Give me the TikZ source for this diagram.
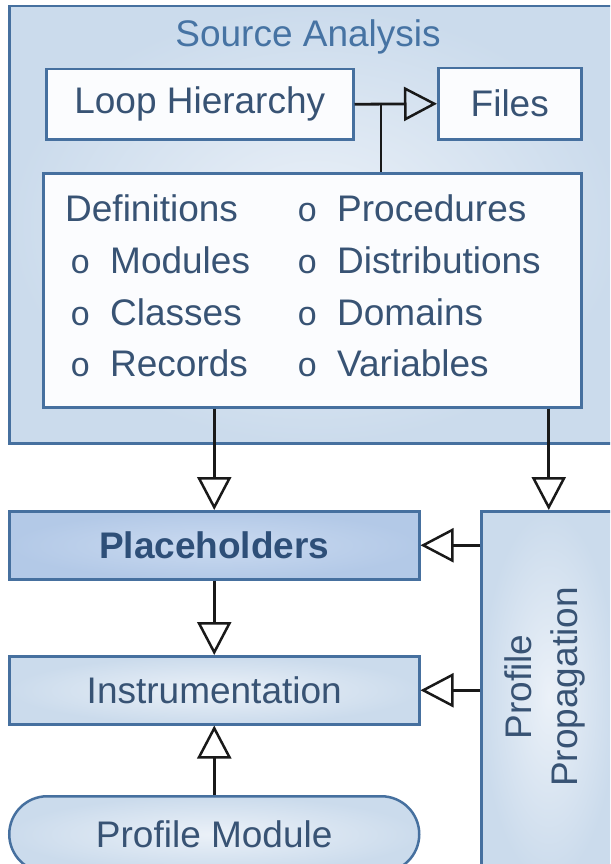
\documentclass[tikz,border=0pt]{standalone}
\usepackage{fontspec}
\setmainfont{Liberation Sans}
\newfontfamily\bulletfont{Liberation Mono}
\usetikzlibrary{arrows.meta,positioning}

\definecolor{edgeblue}{HTML}{46709F}
\definecolor{txtblue}{HTML}{385374}
\definecolor{headblue}{HTML}{4673A3}
\definecolor{boldblue}{HTML}{2E4F78}
\definecolor{paleIn}{HTML}{EBF1F8}
\definecolor{paleOut}{HTML}{CBDBEC}
\definecolor{phIn}{HTML}{CADAF0}
\definecolor{phOut}{HTML}{B3C9E7}
\definecolor{whitebox}{HTML}{FBFCFE}

\tikzset{
  x=1pt, y=-1pt,
  bigfont/.style={font=\fontsize{37}{46}\selectfont},
  panel/.style={draw=edgeblue, line width=2.5pt, inner color=paleIn, outer color=paleOut,
                anchor=north west, inner sep=0pt},
  whitepanel/.style={draw=edgeblue, line width=2.5pt, fill=whitebox,
                anchor=north west, inner sep=0pt, bigfont, text=txtblue},
  listtext/.style={bigfont, text=txtblue, anchor=base west, inner sep=0pt},
  link/.style={line width=2.8pt, draw=black!90},
  conn/.style={link, -{Triangle[open, length=33pt, width=34pt, line width=2.5pt]}},
}
\newcommand{\bul}{\makebox[40pt][l]{\bulletfont\fontsize{34}{40}\selectfont o}}

\begin{document}
\begin{tikzpicture}
\clip (0,0) rectangle (610,864);
\fill[white] (0,0) rectangle (610,864);

% Source analysis group
\node[panel, minimum width=612pt, minimum height=437pt] (sa) at (8,5) {};
\node[bigfont, text=headblue] (title) at (308,37) {Source Analysis};
\node[whitepanel, minimum width=307pt, minimum height=70pt] (loop) at (45,68) {Loop Hierarchy};
\node[whitepanel, minimum width=143pt, minimum height=71pt] (files) at (437,67) {Files};
\node[whitepanel, minimum width=538pt, minimum height=234pt] (defs) at (42,172) {};

% definition lists
\node[listtext] (dhead) at (65,221) {Definitions};
\node[listtext] (dmod) at (70,273) {\bul Modules};
\node[listtext] (dcls) at (70,325) {\bul Classes};
\node[listtext] (drec) at (70,376) {\bul Records};
\node[listtext] (dproc) at (297,221) {\bul Procedures};
\node[listtext] (ddist) at (297,273) {\bul Distributions};
\node[listtext] (ddom) at (297,325) {\bul Domains};
\node[listtext] (dvar) at (297,376) {\bul Variables};

% lower stages
\node[draw=edgeblue, line width=2.5pt, inner color=phIn, outer color=phOut, anchor=north west,
      minimum width=410pt, minimum height=68pt, font=\bfseries\fontsize{37}{46}\selectfont,
      text=boldblue] (ph) at (8,510) {Placeholders};
\node[panel, minimum width=410pt, minimum height=68pt, bigfont, text=txtblue] (instr) at (8,655) {Instrumentation};
\node[panel, minimum width=410pt, minimum height=76pt, rounded corners=38pt, bigfont, text=txtblue] (pm) at (8,795) {Profile Module};
\node[panel, minimum width=135pt, minimum height=370pt] (prop) at (480,510) {};
\node[bigfont, text=txtblue, rotate=90, align=center] (proptxt) at (545,687) {Profile\\Propagation};

% connectors
\coordinate (jn) at (381,103);
\draw[conn] (loop.east) -- (files.west);
\draw[link] (jn) -- (jn |- defs.north);
\draw[conn] (defs.south -| ph.north) -- (ph.north);
\draw[conn] (defs.south -| prop.north) -- (prop.north);
\draw[conn] (prop.west |- ph.east) -- (ph.east);
\draw[conn] (prop.west |- instr.east) -- (instr.east);
\draw[conn] (ph.south) -- (instr.north);
\draw[conn] (pm.north) -- (instr.south);
\end{tikzpicture}
\end{document}
